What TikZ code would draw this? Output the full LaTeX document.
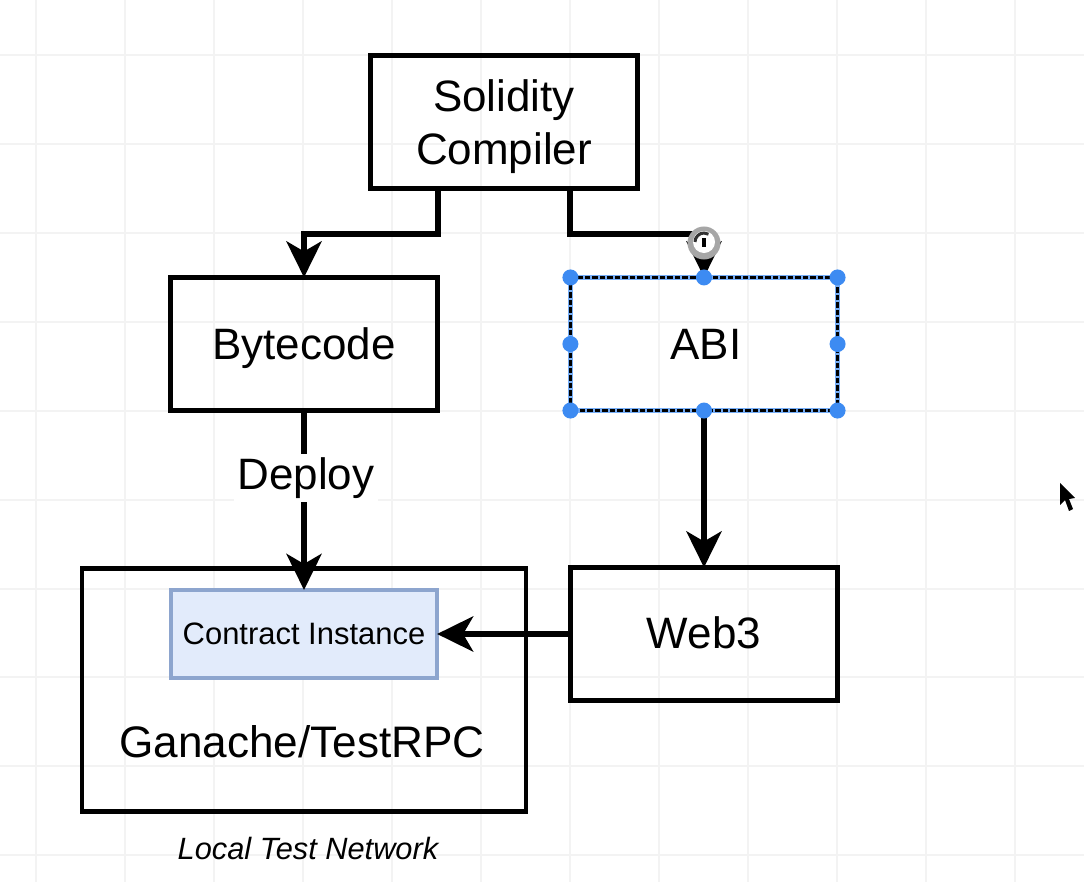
\documentclass[tikz,border=0pt]{standalone}
\usepackage{fontspec}
\setmainfont{Liberation Sans}
\usetikzlibrary{arrows.meta,calc}
\definecolor{gridgray}{HTML}{F3F3F3}
\definecolor{handleblue}{HTML}{3D8BF2}
\definecolor{instfill}{HTML}{E2EBFB}
\definecolor{instline}{HTML}{8DA5CE}
\tikzset{
  boxnode/.style={draw=black,line width=0.42mm,outer sep=0pt,inner sep=0pt,align=center,text depth=0pt,font=\fontsize{12.5}{15}\selectfont},
  bigbox/.style={boxnode,minimum width=2.67cm,minimum height=1.33cm},
  smalltext/.style={font=\fontsize{8.8}{10.5}\selectfont},
  conn/.style={line width=0.6mm,-{Stealth[length=3.6mm,width=3.5mm,inset=1mm]}},
  handle/.style={circle,fill=handleblue,draw=none,minimum size=1.6mm,inner sep=0pt},
}
\begin{document}
\begin{tikzpicture}[x=0.01cm,y=-0.01cm]
\useasboundingbox (0,0) rectangle (1084,882);
\fill[white] (0,0) rectangle (1084,882);
\foreach \gx in {36,125,214,303,392,481,570,659,748,837,926,1015}
  \draw[gridgray,line width=0.15mm] (\gx,0) -- (\gx,882);
\foreach \gy in {55,144,233,322,411,500,589,677,766,855}
  \draw[gridgray,line width=0.15mm] (0,\gy) -- (1084,\gy);

\node[bigbox] (solidity) at (504,122) {Solidity\\Compiler};
\node[bigbox] (bytecode) at (304,344) {Bytecode};
\node[bigbox,draw=handleblue!70] (abi) at (704,344) {\hspace{0.04cm}ABI};
\node[bigbox,text depth=1pt] (web3) at (704,634) {Web3};
\node[boxnode,minimum width=4.44cm,minimum height=2.43cm] (ganache) at (304,690) {};
\node[draw=instline,fill=instfill,line width=0.42mm,outer sep=0pt,minimum width=2.66cm,minimum height=0.88cm,smalltext] (instance) at (304,634) {Contract Instance};
\node[font=\fontsize{12.55}{15}\selectfont] (ganachetext) at (302,742) {Ganache/TestRPC};
\node[font=\fontsize{8.75}{10.5}\selectfont\itshape] (localnet) at (308,848) {Local Test Network};

\draw[conn] (solidity.south -| bytecode.east) -- ++(0,45) -| (bytecode.north);
\draw[conn] (solidity.south -| abi.west) -- ++(0,45) -| (abi.north);
\draw[conn] (bytecode.south) -- node[pos=0.375,fill=white,inner sep=1pt,font=\fontsize{12.5}{15}\selectfont,xshift=0.02cm] (deploy) {Deploy} (instance.north);
\draw[conn] (abi.south) -- (web3.north);
\draw[conn] (web3.west) -- (instance.east);

% selection on abi
\draw[black,line width=0.32mm,dash pattern=on 0.55mm off 0.2mm] (abi.north west) rectangle (abi.south east);
\foreach \hname in {north west,north,north east,west,east,south west,south,south east}
  \node[handle] at (abi.\hname) {};

% rotate icon
\node[circle,fill=gray!70,minimum size=3.3mm,inner sep=0pt] (rotatebg) at (704,243) {};
\node[circle,fill=white,minimum size=2.2mm,inner sep=0pt] (rotatein) at (704,242) {};
\draw[black,line width=0.35mm] (rotatein.center) ++(0,5) -- ++(0,-9);
\draw[black!80,line width=0.3mm] (rotatein.center) ++(-9,0) arc (180:300:9);

% mouse pointer
\fill[black] (1060,483) -- (1060,505) -- (1065,500) -- (1069,511) -- (1073,509) -- (1069,499) -- (1075,498) -- cycle;
\end{tikzpicture}
\end{document}
